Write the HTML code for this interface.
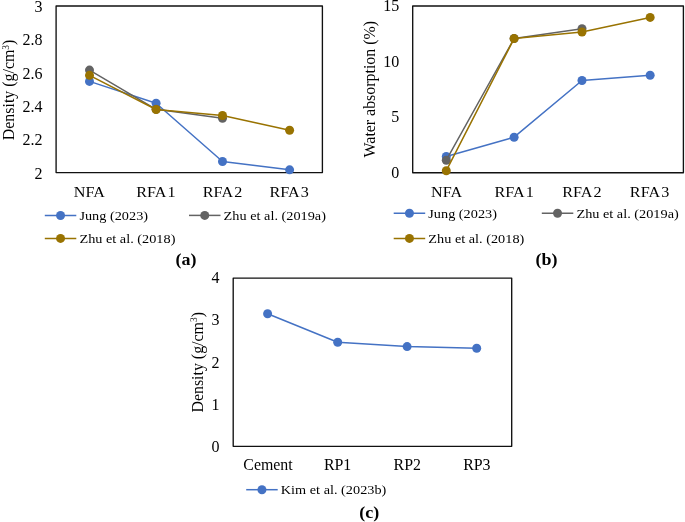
<!DOCTYPE html><html><head><meta charset="utf-8"><style>html,body{margin:0;padding:0;background:#fff;}svg{display:block;}text{font-family:"Liberation Serif",serif;fill:#000;}</style></head><body>
<svg width="685" height="522" viewBox="0 0 685 522"><rect width="685" height="522" fill="#fff"/><g opacity="0.999">
<rect x="56.1" y="6.0" width="266.30" height="166.60" fill="none" stroke="#111" stroke-width="1.35" stroke-linejoin="round"/>
<text x="42.6" y="178.60" text-anchor="end" font-size="16">2</text>
<text x="42.6" y="145.28" text-anchor="end" font-size="16">2.2</text>
<text x="42.6" y="111.96" text-anchor="end" font-size="16">2.4</text>
<text x="42.6" y="78.64" text-anchor="end" font-size="16">2.6</text>
<text x="42.6" y="45.32" text-anchor="end" font-size="16">2.8</text>
<text x="42.6" y="12.00" text-anchor="end" font-size="16">3</text>
<text transform="translate(89.39,197.00) scale(1.07,1)" text-anchor="middle" font-size="15.1" >NFA</text>
<text transform="translate(155.96,197.00) scale(1.07,1)" text-anchor="middle" font-size="15.1" word-spacing="-1.9">RFA 1</text>
<text transform="translate(222.54,197.00) scale(1.07,1)" text-anchor="middle" font-size="15.1" word-spacing="-1.9">RFA 2</text>
<text transform="translate(289.11,197.00) scale(1.07,1)" text-anchor="middle" font-size="15.1" word-spacing="-1.9">RFA 3</text>
<path d="M89.50,81.40 L156.10,103.30 L222.50,161.50 L289.60,169.85" fill="none" stroke="#4472C4" stroke-width="1.5" stroke-linejoin="round"/>
<circle cx="89.50" cy="81.40" r="4.5" fill="#4472C4"/>
<circle cx="156.10" cy="103.30" r="4.5" fill="#4472C4"/>
<circle cx="222.50" cy="161.50" r="4.5" fill="#4472C4"/>
<circle cx="289.60" cy="169.85" r="4.5" fill="#4472C4"/>
<path d="M89.50,70.10 L156.10,109.30 L222.50,118.30" fill="none" stroke="#636363" stroke-width="1.5" stroke-linejoin="round"/>
<circle cx="89.50" cy="70.10" r="4.5" fill="#636363"/>
<circle cx="156.10" cy="109.30" r="4.5" fill="#636363"/>
<circle cx="222.50" cy="118.30" r="4.5" fill="#636363"/>
<path d="M89.50,75.35 L156.10,109.50 L222.50,115.50 L289.60,130.20" fill="none" stroke="#997300" stroke-width="1.5" stroke-linejoin="round"/>
<circle cx="89.50" cy="75.35" r="4.5" fill="#997300"/>
<circle cx="156.10" cy="109.50" r="4.5" fill="#997300"/>
<circle cx="222.50" cy="115.50" r="4.5" fill="#997300"/>
<circle cx="289.60" cy="130.20" r="4.5" fill="#997300"/>
<text transform="translate(14.3,89.90) rotate(-90)" text-anchor="middle" font-size="15.9">Density (g/cm<tspan dy="-5.5" font-size="9.5">3</tspan><tspan dy="5.5">)</tspan></text>
<rect x="412.7" y="6.0" width="270.70" height="166.70" fill="none" stroke="#111" stroke-width="1.35" stroke-linejoin="round"/>
<text x="399.3" y="178.00" text-anchor="end" font-size="16">0</text>
<text x="399.3" y="122.43" text-anchor="end" font-size="16">5</text>
<text x="399.3" y="66.86" text-anchor="end" font-size="16">10</text>
<text x="399.3" y="11.30" text-anchor="end" font-size="16">15</text>
<text transform="translate(446.54,197.00) scale(1.07,1)" text-anchor="middle" font-size="15.1" >NFA</text>
<text transform="translate(514.21,197.00) scale(1.07,1)" text-anchor="middle" font-size="15.1" word-spacing="-1.9">RFA 1</text>
<text transform="translate(581.89,197.00) scale(1.07,1)" text-anchor="middle" font-size="15.1" word-spacing="-1.9">RFA 2</text>
<text transform="translate(649.56,197.00) scale(1.07,1)" text-anchor="middle" font-size="15.1" word-spacing="-1.9">RFA 3</text>
<path d="M446.30,156.50 L514.10,137.20 L582.00,80.50 L650.15,75.30" fill="none" stroke="#4472C4" stroke-width="1.5" stroke-linejoin="round"/>
<circle cx="446.30" cy="156.50" r="4.5" fill="#4472C4"/>
<circle cx="514.10" cy="137.20" r="4.5" fill="#4472C4"/>
<circle cx="582.00" cy="80.50" r="4.5" fill="#4472C4"/>
<circle cx="650.15" cy="75.30" r="4.5" fill="#4472C4"/>
<path d="M446.30,160.20 L514.10,38.50 L582.00,28.70" fill="none" stroke="#636363" stroke-width="1.5" stroke-linejoin="round"/>
<circle cx="446.30" cy="160.20" r="4.5" fill="#636363"/>
<circle cx="514.10" cy="38.50" r="4.5" fill="#636363"/>
<circle cx="582.00" cy="28.70" r="4.5" fill="#636363"/>
<path d="M446.30,170.70 L514.10,38.60 L582.00,31.95 L650.15,17.40" fill="none" stroke="#997300" stroke-width="1.5" stroke-linejoin="round"/>
<circle cx="446.30" cy="170.70" r="4.5" fill="#997300"/>
<circle cx="514.10" cy="38.60" r="4.5" fill="#997300"/>
<circle cx="582.00" cy="31.95" r="4.5" fill="#997300"/>
<circle cx="650.15" cy="17.40" r="4.5" fill="#997300"/>
<text transform="translate(374.6,89.20) rotate(-90)" text-anchor="middle" font-size="15.9">Water absorption (%)</text>
<rect x="233.2" y="278.1" width="278.50" height="168.20" fill="none" stroke="#111" stroke-width="1.35" stroke-linejoin="round"/>
<text x="219.4" y="451.60" text-anchor="end" font-size="16">0</text>
<text x="219.4" y="409.55" text-anchor="end" font-size="16">1</text>
<text x="219.4" y="367.50" text-anchor="end" font-size="16">2</text>
<text x="219.4" y="325.45" text-anchor="end" font-size="16">3</text>
<text x="219.4" y="283.40" text-anchor="end" font-size="16">4</text>
<text x="268.01" y="469.70" text-anchor="middle" font-size="15.9" >Cement</text>
<text x="337.64" y="469.70" text-anchor="middle" font-size="15.9" >RP1</text>
<text x="407.26" y="469.70" text-anchor="middle" font-size="15.9" >RP2</text>
<text x="476.89" y="469.70" text-anchor="middle" font-size="15.9" >RP3</text>
<path d="M267.60,313.80 L337.70,342.20 L407.10,346.60 L476.70,348.20" fill="none" stroke="#4472C4" stroke-width="1.5" stroke-linejoin="round"/>
<circle cx="267.60" cy="313.80" r="4.5" fill="#4472C4"/>
<circle cx="337.70" cy="342.20" r="4.5" fill="#4472C4"/>
<circle cx="407.10" cy="346.60" r="4.5" fill="#4472C4"/>
<circle cx="476.70" cy="348.20" r="4.5" fill="#4472C4"/>
<text transform="translate(202.9,362.30) rotate(-90)" text-anchor="middle" font-size="15.9">Density (g/cm<tspan dy="-5.5" font-size="9.5">3</tspan><tspan dy="5.5">)</tspan></text>
<line x1="44.80" y1="215.5" x2="76.30" y2="215.5" stroke="#4472C4" stroke-width="1.5"/>
<circle cx="60.55" cy="215.5" r="4.5" fill="#4472C4"/>
<text transform="translate(79.40,220.00) scale(1.083,1)" font-size="13.2" >Jung (2023)</text>
<line x1="189.00" y1="215.4" x2="220.50" y2="215.4" stroke="#636363" stroke-width="1.5"/>
<circle cx="204.75" cy="215.4" r="4.5" fill="#636363"/>
<text transform="translate(223.60,219.90) scale(1.083,1)" font-size="13.2" >Zhu et al. (2019a)</text>
<line x1="44.80" y1="238.4" x2="76.30" y2="238.4" stroke="#997300" stroke-width="1.5"/>
<circle cx="60.55" cy="238.4" r="4.5" fill="#997300"/>
<text transform="translate(79.40,242.90) scale(1.083,1)" font-size="13.2" >Zhu et al. (2018)</text>
<line x1="393.70" y1="213.3" x2="425.20" y2="213.3" stroke="#4472C4" stroke-width="1.5"/>
<circle cx="409.45" cy="213.3" r="4.5" fill="#4472C4"/>
<text transform="translate(428.30,217.80) scale(1.083,1)" font-size="13.2" >Jung (2023)</text>
<line x1="541.80" y1="213.3" x2="573.30" y2="213.3" stroke="#636363" stroke-width="1.5"/>
<circle cx="557.55" cy="213.3" r="4.5" fill="#636363"/>
<text transform="translate(576.40,217.80) scale(1.083,1)" font-size="13.2" >Zhu et al. (2019a)</text>
<line x1="393.70" y1="238.4" x2="425.20" y2="238.4" stroke="#997300" stroke-width="1.5"/>
<circle cx="409.45" cy="238.4" r="4.5" fill="#997300"/>
<text transform="translate(428.30,242.90) scale(1.083,1)" font-size="13.2" >Zhu et al. (2018)</text>
<line x1="246.20" y1="489.7" x2="277.70" y2="489.7" stroke="#4472C4" stroke-width="1.5"/>
<circle cx="261.95" cy="489.7" r="4.5" fill="#4472C4"/>
<text transform="translate(280.80,494.20) scale(1.083,1)" font-size="13.2" >Kim et al. (2023b)</text>
<text transform="translate(185.90,264.50) scale(1.06,1)" text-anchor="middle" font-size="17" font-weight="bold">(a)</text>
<text transform="translate(546.60,264.50) scale(1.06,1)" text-anchor="middle" font-size="17" font-weight="bold">(b)</text>
<text transform="translate(369.30,517.50) scale(1.06,1)" text-anchor="middle" font-size="17" font-weight="bold">(c)</text>
</g></svg></body></html>
